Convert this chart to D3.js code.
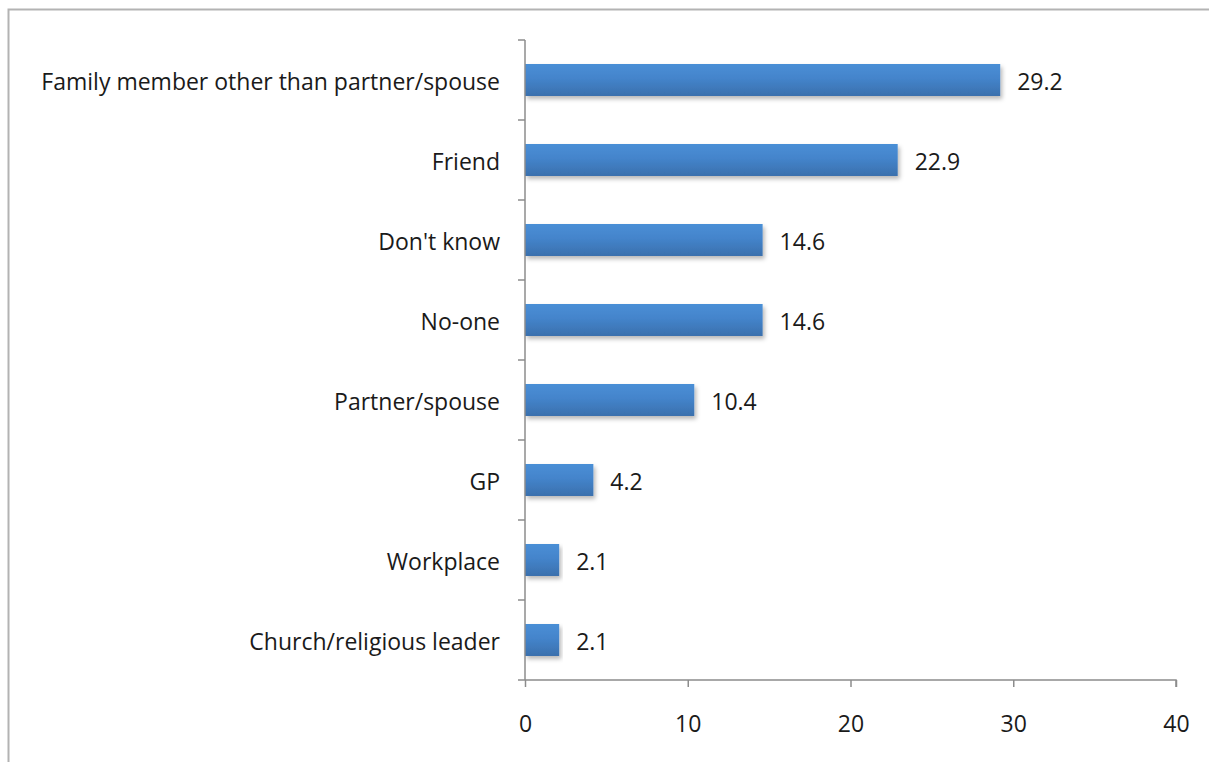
<!DOCTYPE html>
<html>
<head>
<meta charset="utf-8">
<script src="https://cdn.jsdelivr.net/npm/d3@7"></script>
<style>
  html, body { margin: 0; padding: 0; background: #fff; }
  svg { display: block; }
  text { font-family: "Open Sans", Lato, sans-serif; fill: #1a1a1a; }
</style>
</head>
<body>
<svg id="chart" width="1209" height="762"></svg>
<script>
const categories = [
  "Family member other than partner/spouse",
  "Friend",
  "Don't know",
  "No-one",
  "Partner/spouse",
  "GP",
  "Workplace",
  "Church/religious leader"
];
const values = [29.2, 22.9, 14.6, 14.6, 10.4, 4.2, 2.1, 2.1];
const xTicks = [0, 10, 20, 30, 40];

(function draw() {
  const svg = d3.select("#chart");
  const W = 1209, H = 762;
  const plotLeft = 525, plotRight = 1176, plotTop = 40, plotBottom = 680;
  const fontSize = 23;

  // outer frame
  svg.append("rect")
    .attr("x", 8.5).attr("y", 9.5)
    .attr("width", W + 10).attr("height", H + 10)
    .attr("fill", "none").attr("stroke", "#b3b3b3").attr("stroke-width", 2);

  const defs = svg.append("defs");
  const grad = defs.append("linearGradient")
    .attr("id", "barFill").attr("x1", 0).attr("y1", 0).attr("x2", 0).attr("y2", 1);
  grad.append("stop").attr("offset", "0%").attr("stop-color", "#4a8fd6");
  grad.append("stop").attr("offset", "45%").attr("stop-color", "#4484cb");
  grad.append("stop").attr("offset", "100%").attr("stop-color", "#3a70ad");

  const shadow = defs.append("filter").attr("id", "barShadow")
    .attr("x", "-5%").attr("y", "-20%").attr("width", "115%").attr("height", "160%");
  shadow.append("feDropShadow")
    .attr("dx", 2).attr("dy", 3).attr("stdDeviation", 2)
    .attr("flood-color", "#000").attr("flood-opacity", 0.28);

  const x = d3.scaleLinear().domain([0, 40]).range([plotLeft, plotRight]);
  const y = d3.scaleBand().domain(categories).range([plotTop, plotBottom]).paddingInner(0.6).paddingOuter(0.3);
  const yBand = d3.scaleBand().domain(categories).range([plotTop, plotBottom]);

  // bars
  svg.append("g").selectAll("rect")
    .data(categories)
    .join("rect")
    .attr("x", x(0))
    .attr("y", (d) => y(d))
    .attr("width", (d, i) => x(values[i]) - x(0))
    .attr("height", y.bandwidth())
    .attr("fill", "url(#barFill)")
    .attr("filter", "url(#barShadow)");

  // value labels
  svg.append("g").selectAll("text")
    .data(categories)
    .join("text")
    .attr("x", (d, i) => x(values[i]) + 17)
    .attr("y", (d) => y(d) + y.bandwidth() / 2 + 2)
    .attr("dy", "0.35em")
    .attr("font-size", fontSize)
    .text((d, i) => values[i].toFixed(1));

  // category axis
  const axisColor = "#8c8c8c";
  const yAxis = svg.append("g");
  yAxis.append("line")
    .attr("x1", plotLeft).attr("x2", plotLeft).attr("y1", plotTop).attr("y2", plotBottom)
    .attr("stroke", axisColor).attr("stroke-width", 1.5);
  const bounds = categories.map((d) => yBand(d)).concat([plotBottom]);
  yAxis.selectAll("line.tick")
    .data(bounds)
    .join("line").attr("class", "tick")
    .attr("x1", plotLeft - 7).attr("x2", plotLeft)
    .attr("y1", (d) => d).attr("y2", (d) => d)
    .attr("stroke", axisColor).attr("stroke-width", 1.5);
  yAxis.selectAll("text")
    .data(categories)
    .join("text")
    .attr("x", 500)
    .attr("y", (d) => yBand(d) + yBand.bandwidth() / 2 + 2)
    .attr("dy", "0.35em")
    .attr("text-anchor", "end")
    .attr("font-size", fontSize)
    .text((d) => d);

  // value axis
  const xAxis = d3.axisBottom(x).tickValues(xTicks).tickSize(7).tickPadding(29).tickFormat(d3.format("d"));
  const gx = svg.append("g").attr("transform", `translate(0,${plotBottom})`).call(xAxis);
  gx.select(".domain").attr("stroke", axisColor).attr("stroke-width", 1.5)
    .attr("d", `M${plotLeft},0H${plotRight}V7`);
  gx.selectAll(".tick line").attr("stroke", axisColor).attr("stroke-width", 1.5);
  gx.selectAll(".tick text")
    .attr("font-size", fontSize)
    .style("font-family", "'Open Sans', Lato, sans-serif")
    .attr("fill", "#1a1a1a");
})();
</script>
</body>
</html>
